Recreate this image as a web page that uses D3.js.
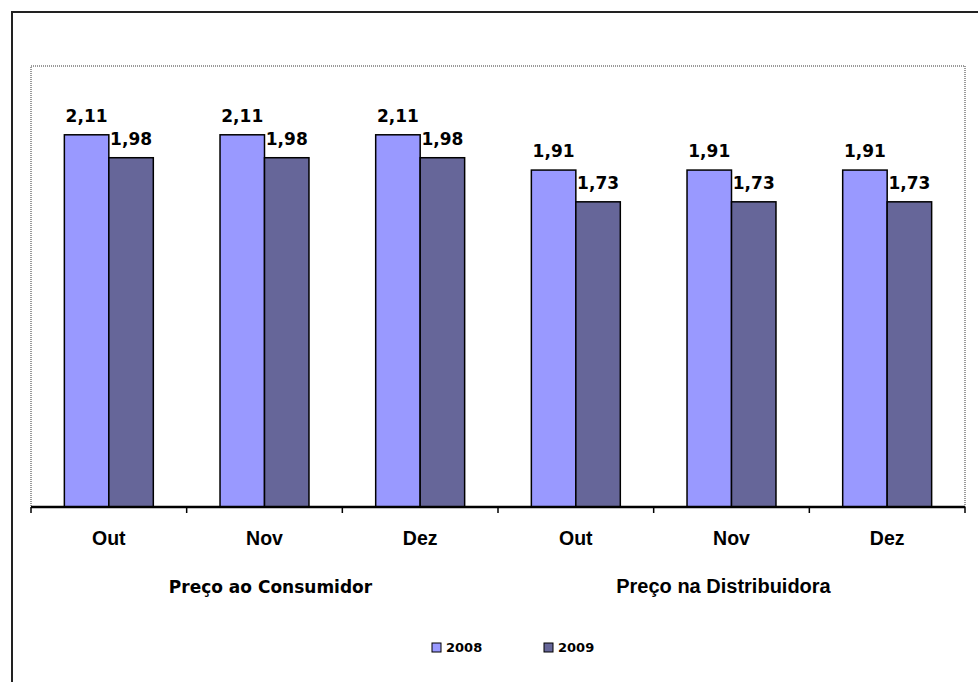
<!DOCTYPE html>
<html>
<head>
<meta charset="utf-8">
<script src="https://cdn.jsdelivr.net/npm/d3@7"></script>
<style>
  html, body { margin: 0; padding: 0; background: #fff; }
  svg { display: block; }
</style>
</head>
<body>
<svg id="chart" width="978" height="682"></svg>
<script>
// ---- Data ----
const categories = ["Out", "Nov", "Dez", "Out", "Nov", "Dez"];
const groups = ["Preço ao Consumidor", "Preço na Distribuidora"];
const groupSizes = [3, 3];
const seriesNames = ["2008", "2009"];
const values2008 = [2.11, 2.11, 2.11, 1.91, 1.91, 1.91];
const values2009 = [1.98, 1.98, 1.98, 1.73, 1.73, 1.73];
const seriesColors = ["#9999FF", "#666699"];

const fmt = v => d3.format(".2f")(v).replace(".", ",");

const svg = d3.select("#chart");
const W = 978, H = 682;

// outer chart border (only left/top visible in the frame)
svg.append("rect").attr("x", 12).attr("y", 12).attr("width", 990).attr("height", 700)
  .attr("fill", "#fff").attr("stroke", "#222").attr("stroke-width", 2);

const plot = { left: 31, top: 66, right: 965, bottom: 507 };

// plot area dotted border
svg.append("rect").attr("x", plot.left).attr("y", plot.top)
  .attr("width", plot.right - plot.left).attr("height", plot.bottom - plot.top)
  .attr("fill", "none").attr("stroke", "#9a9a9a").attr("stroke-width", 2)
  .attr("stroke-dasharray", "1,1");

const idx = d3.range(categories.length);
const x = d3.scaleBand().domain(idx).range([plot.left, plot.right]).paddingInner(0).paddingOuter(0);
const xs = d3.scaleBand().domain(seriesNames).range([0, x.bandwidth()]).paddingInner(0).paddingOuter(0.75);
const y = d3.scaleLinear().domain([0, 2.5]).range([plot.bottom, plot.top]);

const data = idx.map(i => ({ i, vals: [values2008[i], values2009[i]] }));

const g = svg.append("g");
const cat = g.selectAll("g.cat").data(data).enter().append("g")
  .attr("transform", d => `translate(${x(d.i)},0)`);

cat.selectAll("rect").data(d => d.vals.map((v, k) => ({ v, k }))).enter().append("rect")
  .attr("x", d => xs(seriesNames[d.k]))
  .attr("y", d => y(d.v))
  .attr("width", xs.bandwidth())
  .attr("height", d => y(0) - y(d.v))
  .attr("fill", d => seriesColors[d.k])
  .attr("stroke", "#000").attr("stroke-width", 1.5);

cat.selectAll("text.val").data(d => d.vals.map((v, k) => ({ v, k }))).enter().append("text")
  .attr("class", "val")
  .attr("x", d => xs(seriesNames[d.k]) + xs.bandwidth() / 2)
  .attr("y", d => y(d.v) - 13)
  .attr("text-anchor", "middle")
  .attr("font-family", "DejaVu Sans")
  .attr("font-weight", "bold")
  .attr("font-size", 17)
  .attr("fill", "#000")
  .text(d => fmt(d.v));

// axis line
svg.append("line").attr("x1", plot.left).attr("x2", plot.right)
  .attr("y1", y(0)).attr("y2", y(0)).attr("stroke", "#000").attr("stroke-width", 2.5);

// ticks at category boundaries
const bounds = idx.map(i => x(i)).concat([plot.right]);
svg.selectAll("line.tick").data(bounds).enter().append("line")
  .attr("x1", d => d).attr("x2", d => d)
  .attr("y1", y(0)).attr("y2", y(0) + 6)
  .attr("stroke", "#000").attr("stroke-width", 1.5);

// category labels
svg.selectAll("text.cat").data(idx).enter().append("text")
  .attr("x", i => x(i) + x.bandwidth() / 2)
  .attr("y", 545)
  .attr("text-anchor", "middle")
  .attr("font-family", "Liberation Sans, Arial")
  .attr("font-weight", "bold")
  .attr("font-size", 19.5)
  .text(i => categories[i]);

// group labels
let start = 0;
groups.forEach((gname, gi) => {
  const s = start, e = start + groupSizes[gi] - 1;
  const cx = (x(s) + x(e) + x.bandwidth()) / 2;
  svg.append("text")
    .attr("x", cx + (gi === 0 ? 6 : -8))
    .attr("y", 593)
    .attr("text-anchor", "middle")
    .attr("font-family", gi === 0 ? "DejaVu Sans" : "Liberation Sans, Arial")
    .attr("font-weight", "bold")
    .attr("font-size", gi === 0 ? 17 : 20)
    .text(gname);
  start += groupSizes[gi];
});

// legend
const legX = [432, 544];
seriesNames.forEach((s, k) => {
  svg.append("rect").attr("x", legX[k]).attr("y", 643).attr("width", 9).attr("height", 9)
    .attr("fill", seriesColors[k]).attr("stroke", "#000").attr("stroke-width", 1);
  svg.append("text").attr("x", legX[k] + 14).attr("y", 652)
    .attr("font-family", "DejaVu Sans").attr("font-weight", "bold").attr("font-size", 13)
    .text(s);
});
</script>
</body>
</html>
